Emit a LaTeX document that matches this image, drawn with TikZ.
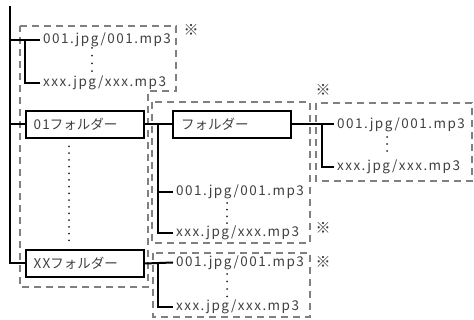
\documentclass[tikz,border=0pt]{standalone}
\usepackage{fontspec}
\setmainfont{Noto Sans CJK JP}
\newfontfamily\spacedfont[LetterSpace=11]{Noto Sans CJK JP}
\begin{document}
\begin{tikzpicture}[x=1pt,y=-1pt,
  conn/.style={line width=2pt,black},
  dbox/.style={line width=2pt,draw=black!50,dash pattern=on 7pt off 5pt},
  fbox/.style={draw,line width=2pt,minimum width=118pt,minimum height=27pt,inner sep=0pt,text width=102pt,align=left,font=\fontsize{13.5}{15}\selectfont,text=black!75},
  ftext/.style={anchor=west,inner xsep=3pt,inner ysep=0pt,text height=0.72em,text depth=0pt,font=\fontsize{13.5}{15}\spacedfont,text=black!75},
  ddots/.style={line width=2pt,line cap=round,dash pattern=on 0pt off #1,black!85},
  refmark/.style={font=\fontsize{15}{16}\selectfont,text=black!80,inner sep=0pt}
]
\useasboundingbox (0,0) rectangle (474,320);
% dashed groups
\draw[dbox] (20,26) -- (176,26) -- (176,91) -- (148,91) -- (148,287) -- (20,287) -- cycle;
\draw[dbox] (152,102) rectangle (310,243);
\draw[dbox] (316,103) rectangle (472,181);
\draw[dbox] (153,253) rectangle (310,317);
% nodes
\node[ftext] (f1) at (40,40) {001.jpg/001.mp3};
\node[ftext] (x1) at (40,83) {xxx.jpg/xxx.mp3};
\node[fbox] (fold01) at (84.5,124.5) {{\spacedfont 01}フォルダー};
\node[fbox] (foldXX) at (84.5,263.5) {{\spacedfont XX}フォルダー};
\node[fbox] (fold) at (232,124.5) {フォルダー};
\node[ftext] (f2) at (173,192) {001.jpg/001.mp3};
\node[ftext] (x2) at (173,233) {xxx.jpg/xxx.mp3};
\node[ftext] (f3) at (334,124.5) {001.jpg/001.mp3};
\node[ftext] (x3) at (334,167) {xxx.jpg/xxx.mp3};
\node[ftext] (f4) at (173,262.5) {001.jpg/001.mp3};
\node[ftext] (x4) at (173,307) {xxx.jpg/xxx.mp3};
\node[refmark] (m1) at (191,30) {※};
\node[refmark] (m2) at (323,90) {※};
\node[refmark] (m3) at (323,228) {※};
\node[refmark] (m4) at (323,262) {※};
% coordinates
\coordinate (top) at (10,6);
\coordinate (t1) at (10,40);
\coordinate (b1) at (25,40);
\coordinate (t2) at (10,124.5);
\coordinate (b2) at (158,124.5);
\coordinate (b3) at (322,124.5);
\coordinate (b4) at (158,262.5);
% connectors
\draw[conn] (top) |- (foldXX.west);
\draw[conn] (t1) -- (f1.west);
\draw[conn] (b1) |- (x1.west);
\draw[conn] (t2) -- (fold01.west);
\draw[conn] (fold01.east) -- (fold.west);
\draw[conn] (b2) |- (x2.west);
\draw[conn] (b2 |- f2.west) -- (f2.west);
\draw[conn] (fold.east) -- (f3.west);
\draw[conn] (b3) |- (x3.west);
\draw[conn] (foldXX.east) -- (f4.west);
\draw[conn] (b4) |- (x4.west);
% dots
\draw[ddots=7.67pt] (92,48) -- (92,72);
\draw[ddots=6.7pt] (69,146.5) -- (69,241);
\draw[ddots=6.7pt] (227,203) -- (227,224);
\draw[ddots=7pt] (387,137) -- (387,158);
\draw[ddots=7.5pt] (227,274) -- (227,297);
\end{tikzpicture}
\end{document}
